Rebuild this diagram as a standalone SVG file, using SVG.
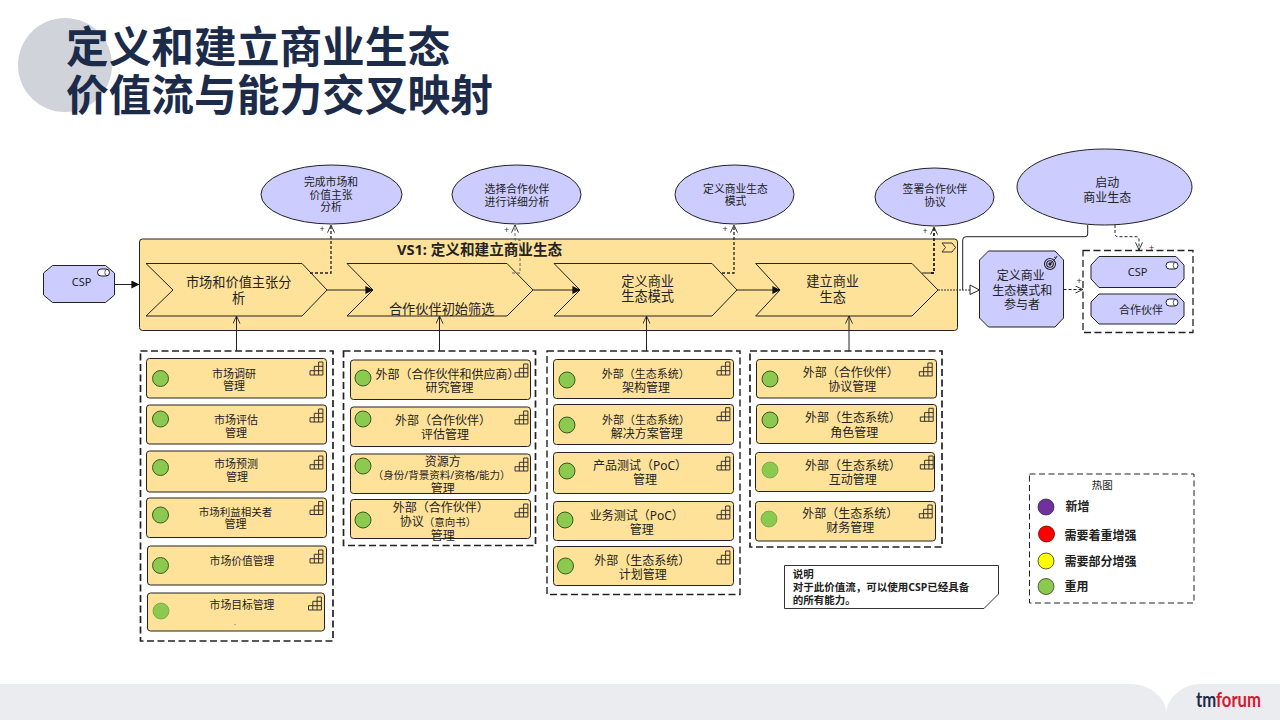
<svg xmlns="http://www.w3.org/2000/svg" width="1280" height="720" viewBox="0 0 1280 720">
<style>
text{font-family:"Noto Sans","Noto Sans CJK SC",sans-serif;fill:#222;text-anchor:middle}
.t43{font-family:"Noto Sans CJK SC",sans-serif;font-size:42.7px;font-weight:700;fill:#1c2b4a;text-anchor:start}
.s107{font-size:10.8px}.s11{font-size:11px}.s12{font-size:12px}.s13{font-size:13.2px}.s105{font-size:10.5px}
.b{font-weight:700}.l{text-anchor:start}
.el{fill:#ccf;stroke:#222;stroke-width:1}
.act{fill:#ccf;stroke:#222;stroke-width:1}
.y{fill:#ffe299;stroke:#222;stroke-width:1}
.chev{fill:#ffe299;stroke:#222;stroke-width:1}
.grp{fill:none;stroke:#222;stroke-width:1.7;stroke-dasharray:7 3.5}
.c{stroke:#2d4a1e;stroke-width:.9;fill:#8cc94f}
.c2{fill:#8cc94f;stroke:#6f9a45;stroke-width:.7}
.ln{fill:none;stroke:#222;stroke-width:1}
.ds{fill:none;stroke:#222;stroke-width:1.3;stroke-dasharray:3 2}
.plus{font-size:9px;fill:#333}
.ic{fill:none;stroke:#222;stroke-width:.9}
.pill{fill:#fff;stroke:#222;stroke-width:1}
</style>
<defs>
<marker id="fa" viewBox="0 0 8 8" refX="7.6" refY="4" markerWidth="8" markerHeight="8" markerUnits="userSpaceOnUse" orient="auto"><path d="M0 0L8 4L0 8Z" fill="#111"/></marker>
<marker id="oa" viewBox="0 0 8 8" refX="7.6" refY="4" markerWidth="8" markerHeight="8" markerUnits="userSpaceOnUse" orient="auto"><path d="M0 .5L7.6 4L0 7.5" fill="none" stroke="#222" stroke-width=".9"/></marker>
<g id="stair"><path class="ic" d="M0 13V8.700H4.300V4.300H8.600V0H12.900V13ZM4.300 13V8.700H12.900M8.600 13V4.300H12.900"/></g>
<g id="pillic"><rect class="pill" x="0" y="0" width="12" height="7" rx="3.500"/><path class="ic" style="stroke-width:.7" d="M9.500 .2A2.200 3.300 0 0 0 9.500 6.800"/></g>
</defs>

<rect width="1280" height="720" fill="#fff"/>
<circle cx="65" cy="65" r="47" fill="#d0d3d9"/>
<text class="t43" x="66" y="63">定义和建立商业生态</text>
<text class="t43" x="66" y="111">价值流与能力交叉映射</text>

<rect y="684" width="1280" height="36" fill="#ebecef"/>
<path d="M1130 684C1150 684 1165 697 1166.500 712C1168 697 1183 684 1200 684Z" fill="#fff"/>
<text x="1196" y="707" style="font-family:Lato,sans-serif;font-size:20px;font-weight:700;text-anchor:start;fill:#1c2b4a" textLength="65" lengthAdjust="spacingAndGlyphs">tm<tspan style="fill:#d8182f">forum</tspan></text>

<g id="vs-box">
<rect class="y" x="139.500" y="239" width="818" height="91.500" rx="3"/>
<path fill="#ffe299" stroke="#222" stroke-width=".9" d="M942 243H952L955.500 247.500L952 252H942L945.500 247.500Z"/>
<text class="b" style="font-size:14.600px;text-anchor:start" x="397" y="255">VS1: 定义和建立商业生态</text>
</g>

<g id="chevron-1"><path class="chev" d="M146 263.500H302L327 290L302 316H146L173 290Z"/>
<text class="s13" x="238.700" y="287">市场和价值主张分</text><text class="s13" x="238.700" y="303">析</text></g>
<g id="chevron-2"><path class="chev" d="M347 263.500H507L533 290L507 316H347L373 290Z"/>
<text class="s13" x="441.700" y="313.700">合作伙伴初始筛选</text></g>
<g id="chevron-3"><path class="chev" d="M554 263.500H712L737 290L712 316H554L580 290Z"/>
<text class="s13" x="647.700" y="285.700">定义商业</text><text class="s13" x="647.700" y="301.400">生态模式</text></g>
<g id="chevron-4"><path class="chev" d="M755.700 263.500H912L938 290L912 316H755.700L780 290Z"/>
<text class="s13" x="832.700" y="286.400">建立商业</text><text class="s13" x="832.700" y="302">生态</text></g>

<g id="goal-1"><ellipse class="el" cx="331.500" cy="194.500" rx="70.500" ry="29.500"/>
<text class="s107" x="331" y="185.600">完成市场和</text><text class="s107" x="331" y="198.600">价值主张</text><text class="s107" x="331" y="211.200">分析</text></g>
<g id="goal-2"><ellipse class="el" cx="516.500" cy="194.500" rx="64.500" ry="29.500"/>
<text class="s107" x="517" y="192.900">选择合作伙伴</text><text class="s107" x="517" y="205.600">进行详细分析</text></g>
<g id="goal-3"><ellipse class="el" cx="734.500" cy="194.500" rx="59.500" ry="29.500"/>
<text class="s107" x="735.500" y="192.600">定义商业生态</text><text class="s107" x="735.500" y="205.200">模式</text></g>
<g id="goal-4"><ellipse class="el" cx="934.500" cy="197" rx="59.500" ry="29"/>
<text class="s107" x="935" y="193.200">签署合作伙伴</text><text class="s107" x="935" y="205.900">协议</text></g>
<g id="goal-5"><ellipse class="el" cx="1104.500" cy="187" rx="87.500" ry="38"/>
<text class="s12" x="1107.300" y="187">启动</text><text class="s12" x="1107.300" y="201.600">商业生态</text></g>

<g id="actor-csp"><path class="act" d="M52.500 265.500H105.500L114.500 273V295L105.500 302.500H52.500L43.500 295V273Z"/>
<use href="#pillic" x="97.500" y="269"/><text class="s11" x="81.700" y="286.200">CSP</text></g>

<g id="target"><path class="act" d="M988.500 251H1055L1063.500 260V318L1055 327H988.500L979.500 318V260Z"/>
<g fill="none" stroke="#222"><circle cx="1050" cy="264" r="5.500" stroke-width="1.100"/><circle cx="1050" cy="264" r="3.300" stroke-width="1.100"/><circle cx="1050" cy="264" r="1.200" fill="#222"/><path stroke-width=".9" d="M1050 264L1056 258M1054 257L1056 258L1057 256"/></g>
<text class="s12" x="1020.700" y="280">定义商业</text><text class="s12" x="1022.300" y="294.600">生态模式和</text><text class="s12" x="1022" y="309">参与者</text></g>

<g id="role-group"><rect class="grp" style="stroke-width:1.300" x="1083" y="250.500" width="110" height="82"/>
<g id="role-csp"><path class="act" d="M1099 256.500H1176L1184 265V279L1176 287.500H1099L1091 279V265Z"/><use href="#pillic" x="1166" y="262"/><text class="s11" x="1137.700" y="275.600">CSP</text></g>
<g id="role-partner"><path class="act" d="M1099 294H1176L1184 302V316L1176 324H1099L1091 316V302Z"/><use href="#pillic" x="1166" y="299"/><text class="s11" x="1141" y="313.700">合作伙伴</text></g>
</g>

<g id="cap-group-1"><rect class="grp" x="140.500" y="351" width="192.500" height="290"/>
<g id="c1-1"><rect class="y" x="146.500" y="358.500" width="180" height="39.500" rx="3"/><circle class="c" cx="160.500" cy="378.500" r="8"/><use href="#stair" x="310" y="362"/><text class="s11" x="234" y="377.500">市场调研</text><text class="s11" x="234" y="389.800">管理</text></g>
<g id="c1-2"><rect class="y" x="146.500" y="405" width="180" height="39" rx="3"/><circle class="c" cx="160.500" cy="419" r="8"/><use href="#stair" x="310" y="409"/><text class="s11" x="236" y="424">市场评估</text><text class="s11" x="236" y="436.500">管理</text></g>
<g id="c1-3"><rect class="y" x="146.500" y="451" width="180" height="41" rx="3"/><circle class="c" cx="160.500" cy="467.500" r="8"/><use href="#stair" x="310" y="456"/><text class="s11" x="236" y="468.300">市场预测</text><text class="s11" x="237" y="481">管理</text></g>
<g id="c1-4"><rect class="y" x="146.500" y="498" width="180" height="39.500" rx="3"/><circle class="c" cx="160.500" cy="515" r="8"/><use href="#stair" x="310" y="501.500"/><text class="s105" x="235.500" y="515.500">市场利益相关者</text><text class="s11" x="235.500" y="528">管理</text></g>
<g id="c1-5"><rect class="y" x="147.500" y="546" width="179" height="39" rx="3"/><circle class="c" cx="160.500" cy="565.500" r="8"/><use href="#stair" x="310" y="550"/><text class="s107" x="242" y="565">市场价值管理</text></g>
<g id="c1-6"><rect class="y" x="147.500" y="593" width="177" height="38" rx="3"/><circle class="c2" cx="161" cy="611" r="8"/><use href="#stair" x="308.500" y="597"/><text class="s107" x="242" y="609">市场目标管理</text><text x="235" y="625" style="font-size:7px;fill:#666">.</text></g>
</g>

<g id="cap-group-2"><rect class="grp" x="343.500" y="351" width="192" height="194.500"/>
<g id="c2-1"><rect class="y" x="350.500" y="360" width="180" height="39.500" rx="3"/><circle class="c" cx="363" cy="378" r="8"/><use href="#stair" x="515" y="364"/><text class="s12" x="447.500" y="378.500">外部（合作伙伴和供应商）</text><text class="s12" x="449.500" y="392">研究管理</text></g>
<g id="c2-2"><rect class="y" x="350.500" y="407" width="180" height="39.500" rx="3"/><circle class="c" cx="363" cy="419" r="8"/><use href="#stair" x="515" y="411"/><text class="s12" x="443" y="424.500">外部（合作伙伴）</text><text class="s12" x="445" y="438.500">评估管理</text></g>
<g id="c2-3"><rect class="y" x="350.500" y="454" width="180" height="39.500" rx="3"/><circle class="c" cx="363" cy="466" r="8"/><use href="#stair" x="515" y="458"/><text class="s12" x="442.700" y="466">资源方</text><text class="s105" x="441.700" y="479">（身份/背景资料/资格/能力）</text><text class="s12" x="442.700" y="492.500">管理</text></g>
<g id="c2-4"><rect class="y" x="350.500" y="499.500" width="180" height="39" rx="3"/><circle class="c" cx="363" cy="520" r="8"/><use href="#stair" x="515" y="504"/><text class="s12" x="440.700" y="511.500">外部（合作伙伴）</text><text class="s12" x="438" y="526">协议<tspan style="font-size:10.500px">（意向书）</tspan></text><text class="s12" x="442.700" y="540">管理</text></g>
</g>

<g id="cap-group-3"><rect class="grp" style="stroke-width:1.400" x="547" y="351" width="193" height="243.500"/>
<g id="c3-1"><rect class="y" x="553.500" y="359.500" width="180" height="39" rx="3"/><circle class="c" cx="567" cy="380" r="8"/><use href="#stair" x="717" y="362"/><text class="s11" x="645.700" y="378">外部（生态系统）</text><text class="s12" x="646" y="392">架构管理</text></g>
<g id="c3-2"><rect class="y" x="553.500" y="404.500" width="180" height="40" rx="3"/><circle class="c" cx="567" cy="425" r="8"/><use href="#stair" x="717" y="407.700"/><text class="s11" x="646" y="423.700">外部（生态系统）</text><text class="s12" x="646.700" y="437.600">解决方案管理</text></g>
<g id="c3-3"><rect class="y" x="553.500" y="452.500" width="180" height="41" rx="3"/><circle class="c" cx="567" cy="471" r="8"/><use href="#stair" x="717" y="457"/><text class="s12" x="640" y="470">产品测试（PoC）</text><text class="s12" x="645" y="484.300">管理</text></g>
<g id="c3-4"><rect class="y" x="553.500" y="501.500" width="180" height="39" rx="3"/><circle class="c" cx="565" cy="520" r="8"/><use href="#stair" x="717" y="506"/><text class="s12" x="636.700" y="520">业务测试（PoC）</text><text class="s12" x="641.700" y="533.600">管理</text></g>
<g id="c3-5"><rect class="y" x="553.500" y="546.500" width="180" height="39" rx="3"/><circle class="c" cx="565.500" cy="566" r="8"/><use href="#stair" x="717" y="551"/><text class="s12" x="642.300" y="565.300">外部（生态系统）</text><text class="s12" x="642.700" y="579.300">计划管理</text></g>
</g>

<g id="cap-group-4"><rect class="grp" x="750" y="351" width="192" height="196"/>
<g id="c4-1"><rect class="y" x="756.500" y="359.500" width="180" height="38.500" rx="3"/><circle class="c" cx="770" cy="379" r="8"/><use href="#stair" x="919.300" y="363"/><text class="s12" x="850.700" y="377.300">外部（合作伙伴）</text><text class="s12" x="852.300" y="391">协议管理</text></g>
<g id="c4-2"><rect class="y" x="756.500" y="404.500" width="180" height="39" rx="3"/><circle class="c" cx="770" cy="420" r="8"/><use href="#stair" x="920.300" y="408.300"/><text class="s12" x="853" y="422">外部（生态系统）</text><text class="s12" x="854.300" y="436.600">角色管理</text></g>
<g id="c4-3"><rect class="y" x="755.500" y="452.500" width="179" height="39" rx="3"/><circle class="c2" cx="770" cy="470" r="8"/><use href="#stair" x="920.300" y="456"/><text class="s12" x="853" y="470">外部（生态系统）</text><text class="s12" x="852.700" y="484.300">互动管理</text></g>
<g id="c4-4"><rect class="y" x="755.500" y="501.500" width="180" height="39.500" rx="3"/><circle class="c2" cx="769" cy="519" r="8"/><use href="#stair" x="919.300" y="505"/><text class="s12" x="850.300" y="518.300">外部（生态系统）</text><text class="s12" x="850.300" y="532.300">财务管理</text></g>
</g>

<g id="note"><path fill="#fff" stroke="#333" stroke-width="1" d="M784.500 565.500H998.500V594L984 608.500H784.500Z"/>
<text class="s105 b l" x="792.700" y="577.500">说明</text><text class="s105 b l" x="792.700" y="590.800">对于此价值流，可以使用CSP已经具备</text><text class="s105 b l" x="792.700" y="603.800">的所有能力。</text></g>

<g id="legend"><rect fill="none" stroke="#222" stroke-width="1" stroke-dasharray="6 3.500" x="1029.500" y="474" width="164.500" height="129"/>
<text class="s105" x="1102.300" y="488.800">热图</text>
<circle cx="1046" cy="507" r="8" fill="#7030a0" stroke="#333" stroke-width=".8"/><text class="s12 b l" x="1065.500" y="511">新增</text>
<circle cx="1046.500" cy="534" r="8" fill="#f00" stroke="#600" stroke-width=".8"/><text class="s12 b l" x="1064.500" y="540">需要着重增强</text>
<circle cx="1046" cy="561" r="8" fill="#ff0" stroke="#333" stroke-width=".8"/><text class="s12 b l" x="1064.500" y="566">需要部分增强</text>
<circle cx="1046" cy="586.500" r="8" fill="#8cc94f" stroke="#333" stroke-width=".8"/><text class="s12 b l" x="1064.500" y="591.300">重用</text></g>

<g id="connectors">
<path class="ln" marker-end="url(#fa)" d="M114.500 284.500H139"/>
<path class="ln" marker-end="url(#fa)" d="M327 290H373"/>
<path class="ln" marker-end="url(#fa)" d="M533 290H580"/>
<path class="ln" marker-end="url(#fa)" d="M737 290H780"/>
<path class="ds" marker-end="url(#oa)" d="M310 273H331V225"/>
<path fill="none" stroke="#555" stroke-width=".9" stroke-dasharray="3 2" marker-end="url(#oa)" d="M512 273H520V240H515V225"/>
<path class="ds" marker-end="url(#oa)" d="M722 273H734V225"/>
<path class="ln" d="M922 273H931"/>
<path class="ds" style="stroke-width:1.800" marker-end="url(#oa)" d="M931 273H934V227"/>
<path fill="none" stroke="#333" stroke-width="1.100" stroke-dasharray="2 1" d="M938 290H970"/>
<path fill="#fff" stroke="#222" d="M970 285L979.500 290L970 294.500Z"/>
<path class="ln" d="M1087.700 225V234Q1087.700 236.700 1085 236.700H966Q962.700 236.700 962.700 240V290"/>
<path class="ds" style="stroke-width:1" marker-end="url(#oa)" d="M1115 225V234Q1115 236.700 1118 236.700H1136Q1139 236.700 1139 240V250"/>
<path class="ds" style="stroke-width:1" marker-end="url(#oa)" d="M1063.500 289.500H1083"/>
<path class="ln" marker-end="url(#oa)" d="M236.500 351V316"/>
<path class="ln" marker-end="url(#oa)" d="M439.500 351V316"/>
<path class="ln" marker-end="url(#oa)" d="M646.500 351V316"/>
<path class="ln" marker-end="url(#oa)" d="M849 351V316"/>
<text class="plus" x="322" y="232">+</text>
<text class="plus" x="506.500" y="233">+</text>
<text class="plus" x="725" y="232">+</text>
<text class="plus" x="925" y="234">+</text>
<text class="plus" x="1079" y="284">+</text>
<text class="plus" x="1151.500" y="251">+</text>
</g>
</svg>
